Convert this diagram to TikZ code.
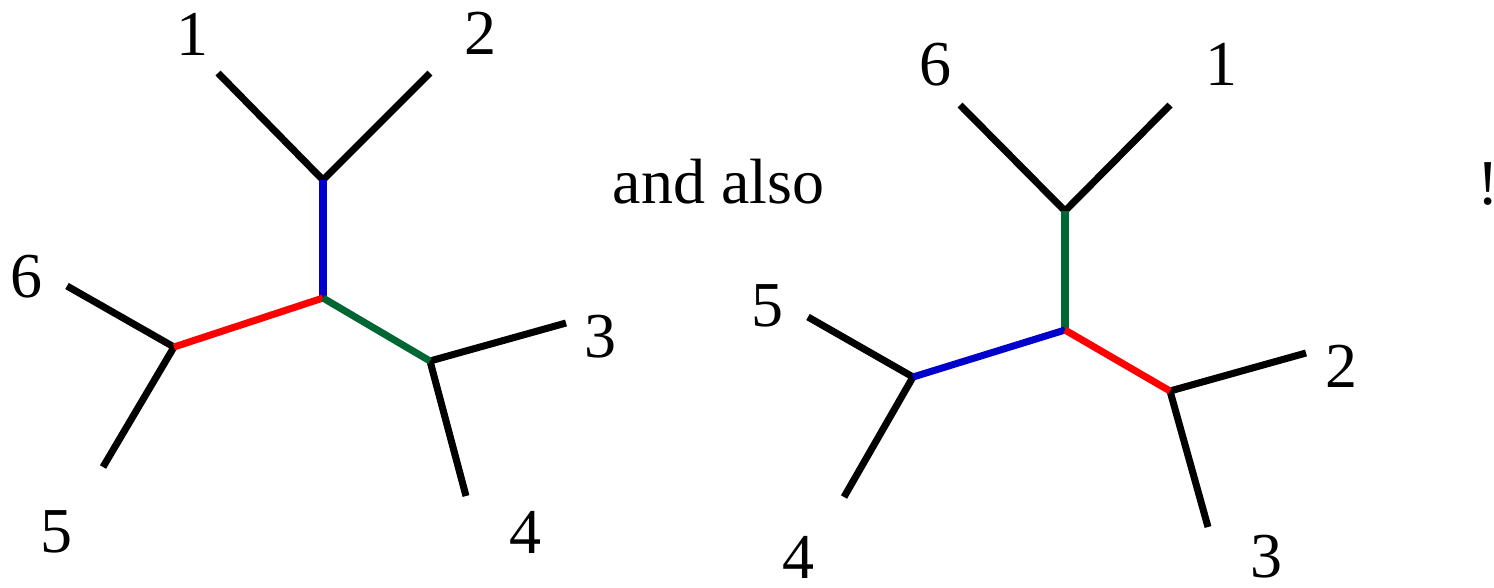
\documentclass[tikz,border=0pt]{standalone}
\usepackage{fontspec}
\setmainfont{LiberationSerif}[Extension=.ttf, UprightFont=*-Regular]
\usepackage{xcolor}
\definecolor{edgeblue}{RGB}{0,0,204}
\definecolor{edgegreen}{RGB}{0,102,51}
\definecolor{edgered}{RGB}{255,0,0}
\tikzset{
  leaf/.style={line width=2pt, black},
  inner/.style={line width=2pt},
  lbl/.style={inner sep=0pt, font=\fontsize{18.2}{22}\selectfont}
}

\begin{document}
\begin{tikzpicture}[x=0.01cm, y=-0.01cm]
\useasboundingbox (0,0) rectangle (1494,587);
% first tree
\coordinate (Atop) at (323,180);
\coordinate (Amid) at (323,298);
\coordinate (Aleft) at (174,347);
\coordinate (Aright) at (430,361);
\coordinate (A1) at (218,73);
\coordinate (A2) at (430,73);
\coordinate (A6) at (67,286);
\coordinate (A5) at (103,467);
\coordinate (A3) at (566,323);
\coordinate (A4) at (466,496);
\node[lbl] (a1) at (192,34) {1};
\node[lbl] (a2) at (480,33) {2};
\node[lbl] (a6) at (27,277) {6};
\node[lbl] (a5) at (56,532) {5};
\node[lbl] (a3) at (600,337) {3};
\node[lbl] (a4) at (525,532) {4};
\draw[leaf] (A1) -- (Atop) -- (A2);
\draw[leaf] (A6) -- (Aleft) -- (A5);
\draw[leaf] (A3) -- (Aright) -- (A4);
\draw[inner, edgeblue] (Atop) -- (Amid);
\draw[inner, edgered] (Amid) -- (Aleft);
\draw[inner, edgegreen] (Amid) -- (Aright);
% text in between
\node[lbl, anchor=base west] (also) at (612,203) {and also};
% second tree
\coordinate (Btop) at (1065,211);
\coordinate (Bmid) at (1065,330);
\coordinate (Bleft) at (913,377);
\coordinate (Bright) at (1170,391);
\coordinate (B6) at (960,105);
\coordinate (B1) at (1170,105);
\coordinate (B5) at (808,317);
\coordinate (B4) at (844,497);
\coordinate (B2) at (1306,353);
\coordinate (B3) at (1208,527);
\node[lbl] (b6) at (935,65) {6};
\node[lbl] (b1) at (1221,64) {1};
\node[lbl] (b5) at (767,306) {5};
\node[lbl] (b4) at (798,557) {4};
\node[lbl] (b2) at (1341,366) {2};
\node[lbl] (b3) at (1266,557) {3};
\draw[leaf] (B6) -- (Btop) -- (B1);
\draw[leaf] (B5) -- (Bleft) -- (B4);
\draw[leaf] (B2) -- (Bright) -- (B3);
\draw[inner, edgegreen] (Btop) -- (Bmid);
\draw[inner, edgeblue] (Bmid) -- (Bleft);
\draw[inner, edgered] (Bmid) -- (Bright);
\node[lbl, anchor=base] (bang) at (1488,204) {!};
\end{tikzpicture}
\end{document}
